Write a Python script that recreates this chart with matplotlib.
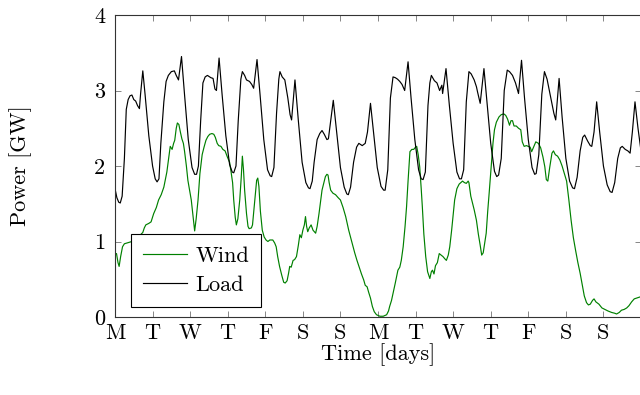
import matplotlib
matplotlib.use("Agg")
import matplotlib.pyplot as plt

plt.rcParams['font.family'] = ['cmr10', 'DejaVu Serif']
plt.rcParams['axes.formatter.use_mathtext'] = True
plt.rcParams['mathtext.fontset'] = 'cm'

# ---- data (time in days from Monday 00:00) ----
day_labels = ["M", "T", "W", "T", "F", "S", "S", "M", "T", "W", "T", "F", "S", "S"]
y_ticks = [0, 1, 2, 3, 4]

load_t = [
    0.00, 0.05, 0.10, 0.14, 0.19, 0.25, 0.30, 0.35, 0.40, 0.45, 0.50, 0.55, 0.60, 0.65, 0.68, 0.74, 0.80, 0.90,
    1.00, 1.07, 1.12, 1.17, 1.22, 1.30, 1.36, 1.42, 1.50, 1.58, 1.63, 1.69, 1.77, 1.85, 1.95,
    2.05, 2.12, 2.17, 2.22, 2.28, 2.34, 2.40, 2.46, 2.55, 2.61, 2.66, 2.70, 2.77, 2.85, 2.95,
    3.05, 3.12, 3.16, 3.22, 3.28, 3.35, 3.39, 3.45, 3.50, 3.58, 3.64, 3.69, 3.78, 3.86, 3.96,
    4.06, 4.13, 4.17, 4.23, 4.30, 4.36, 4.39, 4.45, 4.52, 4.60, 4.66, 4.70, 4.79, 4.88, 4.98,
    5.08, 5.15, 5.19, 5.25, 5.30, 5.38, 5.45, 5.51, 5.57, 5.64, 5.68, 5.74, 5.81, 5.90,
    6.00, 6.10, 6.17, 6.21, 6.27, 6.35, 6.43, 6.49, 6.58, 6.66, 6.72, 6.80, 6.88, 6.98,
    7.08, 7.15, 7.19, 7.26, 7.33, 7.40, 7.46, 7.52, 7.58, 7.64, 7.71, 7.80, 7.88, 7.98,
    8.08, 8.15, 8.20, 8.26, 8.33, 8.38, 8.42, 8.50, 8.57, 8.64, 8.70, 8.72, 8.81, 8.90,
    9.00, 9.10, 9.17, 9.22, 9.28, 9.35, 9.42, 9.48, 9.56, 9.62, 9.65, 9.72, 9.82, 9.90,
    10.00, 10.10, 10.16, 10.21, 10.28, 10.36, 10.44, 10.50, 10.58, 10.66, 10.74, 10.82, 10.90,
    11.00, 11.10, 11.17, 11.21, 11.28, 11.36, 11.43, 11.50, 11.56, 11.62, 11.68, 11.73, 11.82, 11.90,
    12.00, 12.10, 12.18, 12.23, 12.30, 12.38, 12.45, 12.50, 12.58, 12.65, 12.69, 12.75, 12.82, 12.90,
    13.00, 13.10, 13.18, 13.23, 13.30, 13.38, 13.45, 13.50, 13.58, 13.65, 13.71, 13.77, 13.84, 13.92, 14.00,
]
load_v = [
    1.70, 1.58, 1.52, 1.51, 1.60, 2.10, 2.75, 2.88, 2.93, 2.94, 2.88, 2.86, 2.80, 2.76, 2.95, 3.26, 2.95, 2.40,
    2.00, 1.83, 1.79, 1.83, 2.30, 2.85, 3.12, 3.20, 3.25, 3.26, 3.20, 3.14, 3.45, 2.95, 2.35,
    1.98, 1.89, 1.89, 2.00, 2.60, 3.10, 3.18, 3.20, 3.17, 3.16, 3.02, 3.00, 3.43, 2.95, 2.40,
    2.02, 1.92, 1.91, 2.00, 2.60, 3.15, 3.25, 3.20, 3.14, 3.12, 3.08, 3.03, 3.41, 2.95, 2.35,
    1.95, 1.87, 1.86, 1.98, 2.70, 3.15, 3.25, 3.18, 3.14, 2.90, 2.68, 2.61, 3.14, 2.60, 2.05,
    1.78, 1.71, 1.70, 1.80, 2.05, 2.35, 2.43, 2.47, 2.42, 2.35, 2.36, 2.60, 2.87, 2.45,
    1.98, 1.72, 1.63, 1.62, 1.72, 2.05, 2.25, 2.30, 2.27, 2.30, 2.45, 2.83, 2.45, 1.98,
    1.73, 1.68, 1.68, 1.95, 2.90, 3.18, 3.17, 3.15, 3.12, 3.08, 3.00, 3.38, 2.90, 2.35,
    1.95, 1.83, 1.82, 1.92, 2.80, 3.10, 3.20, 3.13, 3.10, 3.00, 3.07, 2.96, 3.29, 2.80,
    2.30, 1.92, 1.83, 1.83, 1.95, 2.85, 3.25, 3.22, 3.14, 3.05, 2.98, 2.83, 3.29, 2.85,
    2.30, 1.93, 1.86, 1.88, 2.10, 3.00, 3.27, 3.25, 3.20, 3.10, 2.96, 3.40, 2.90,
    2.35, 1.98, 1.89, 1.90, 2.15, 2.95, 3.25, 3.15, 3.00, 2.85, 2.70, 2.61, 3.16, 2.65,
    2.10, 1.80, 1.71, 1.70, 1.85, 2.20, 2.38, 2.41, 2.33, 2.27, 2.26, 2.45, 2.85, 2.45,
    2.00, 1.75, 1.66, 1.65, 1.78, 2.10, 2.24, 2.26, 2.22, 2.20, 2.17, 2.45, 2.85, 2.50, 2.20,
]

wind_t = [
    0.00, 0.04, 0.08, 0.11, 0.15, 0.20, 0.25, 0.32, 0.45, 0.60, 0.74, 0.78, 0.82, 0.90, 0.96,
    1.03, 1.10, 1.16, 1.23, 1.30, 1.38, 1.44, 1.47, 1.52, 1.56, 1.59, 1.63, 1.66, 1.70, 1.74, 1.78, 1.82, 1.85, 1.90, 1.94,
    2.03, 2.08, 2.12, 2.16, 2.21, 2.26, 2.32, 2.37, 2.42, 2.47, 2.52, 2.58, 2.63, 2.67, 2.72, 2.76, 2.82, 2.87, 2.93, 2.99,
    3.05, 3.09, 3.13, 3.16, 3.20, 3.23, 3.27, 3.32, 3.36, 3.39, 3.42, 3.45, 3.50, 3.54, 3.57, 3.63, 3.66, 3.72, 3.77, 3.80, 3.83, 3.87, 3.92, 3.97,
    4.02, 4.07, 4.12, 4.20, 4.25, 4.29, 4.33, 4.38, 4.44, 4.49, 4.53, 4.58, 4.62, 4.65, 4.69, 4.74, 4.78, 4.83, 4.88, 4.92, 4.96,
    5.00, 5.04, 5.07, 5.10, 5.13, 5.17, 5.22, 5.27, 5.34, 5.38, 5.43, 5.47, 5.51, 5.56, 5.60, 5.64, 5.67, 5.70, 5.74, 5.80, 5.87, 5.94,
    6.00, 6.07, 6.14, 6.22, 6.31, 6.38, 6.44, 6.50, 6.56, 6.62, 6.66, 6.71, 6.75, 6.80, 6.85, 6.90, 6.96,
    7.05, 7.14, 7.23, 7.28, 7.31, 7.36, 7.40, 7.46, 7.53, 7.58, 7.62, 7.67, 7.72, 7.76, 7.80, 7.85, 7.90, 7.95,
    8.00, 8.03, 8.07, 8.11, 8.15, 8.18, 8.22, 8.27, 8.32, 8.38, 8.42, 8.45, 8.49, 8.53, 8.58, 8.63, 8.68, 8.73, 8.78, 8.82, 8.87, 8.91, 8.96,
    9.00, 9.04, 9.10, 9.16, 9.25, 9.30, 9.35, 9.40, 9.42, 9.47, 9.51, 9.56, 9.62, 9.67, 9.72, 9.76, 9.80, 9.84, 9.88, 9.92, 9.96,
    10.02, 10.06, 10.10, 10.15, 10.22, 10.28, 10.35, 10.40, 10.45, 10.50, 10.54, 10.58, 10.62, 10.68, 10.74, 10.80, 10.84, 10.89, 10.95,
    11.00, 11.05, 11.09, 11.14, 11.20, 11.27, 11.33, 11.39, 11.44, 11.48, 11.52, 11.57, 11.63, 11.67, 11.72, 11.78, 11.84, 11.90, 11.96,
    12.02, 12.08, 12.14, 12.20, 12.26, 12.32, 12.38, 12.44, 12.49, 12.55, 12.60, 12.65, 12.71, 12.75, 12.80, 12.88, 12.96,
    13.04, 13.12, 13.22, 13.30, 13.35, 13.42, 13.48, 13.55, 13.62, 13.68, 13.75, 13.82, 13.88, 14.00,
]
wind_v = [
    0.84, 0.84, 0.72, 0.67, 0.80, 0.93, 0.97, 0.98, 1.00, 1.05, 1.12, 1.18, 1.22, 1.24, 1.26,
    1.37, 1.45, 1.55, 1.62, 1.72, 1.92, 2.15, 2.26, 2.22, 2.30, 2.34, 2.50, 2.57, 2.55, 2.45, 2.36, 2.30, 2.20, 2.00, 1.81,
    1.55, 1.32, 1.14, 1.30, 1.55, 1.90, 2.15, 2.25, 2.34, 2.39, 2.42, 2.43, 2.42, 2.38, 2.30, 2.27, 2.26, 2.22, 2.20, 2.12,
    2.05, 1.92, 1.78, 1.55, 1.32, 1.22, 1.30, 1.55, 1.85, 2.13, 1.95, 1.68, 1.37, 1.20, 1.17, 1.18, 1.22, 1.55, 1.81, 1.84, 1.73, 1.40, 1.15, 1.06,
    1.02, 1.00, 1.02, 1.02, 0.98, 0.93, 0.80, 0.67, 0.55, 0.46, 0.45, 0.48, 0.58, 0.67, 0.66, 0.75, 0.76, 0.80, 0.95, 1.09, 1.05,
    1.15, 1.22, 1.33, 1.20, 1.13, 1.18, 1.22, 1.15, 1.11, 1.20, 1.37, 1.52, 1.68, 1.78, 1.86, 1.89, 1.88, 1.78, 1.68, 1.64, 1.62, 1.58,
    1.55, 1.45, 1.33, 1.15, 0.98, 0.85, 0.75, 0.66, 0.57, 0.49, 0.42, 0.40, 0.33, 0.25, 0.14, 0.07, 0.03,
    0.01, 0.01, 0.03, 0.08, 0.14, 0.22, 0.31, 0.45, 0.62, 0.66, 0.75, 0.93, 1.20, 1.46, 1.80, 2.19, 2.22, 2.22,
    2.25, 2.26, 2.15, 1.99, 1.70, 1.46, 1.10, 0.80, 0.60, 0.51, 0.60, 0.62, 0.57, 0.68, 0.72, 0.84, 0.82, 0.80, 0.77, 0.75, 0.82, 0.93, 1.15,
    1.35, 1.55, 1.70, 1.76, 1.80, 1.78, 1.77, 1.80, 1.78, 1.60, 1.52, 1.42, 1.28, 1.10, 0.95, 0.82, 0.85, 0.98, 1.11, 1.40, 1.65,
    2.05, 2.30, 2.48, 2.58, 2.65, 2.68, 2.69, 2.67, 2.62, 2.54, 2.60, 2.60, 2.53, 2.53, 2.50, 2.48, 2.32, 2.26, 2.27,
    2.26, 2.25, 2.19, 2.25, 2.32, 2.30, 2.24, 2.12, 1.99, 1.82, 1.80, 1.98, 2.17, 2.20, 2.15, 2.13, 2.08, 2.00, 1.90,
    1.80, 1.55, 1.28, 1.05, 0.88, 0.72, 0.58, 0.42, 0.28, 0.19, 0.16, 0.17, 0.22, 0.24, 0.20, 0.17, 0.12,
    0.10, 0.08, 0.06, 0.05, 0.04, 0.06, 0.09, 0.10, 0.12, 0.15, 0.20, 0.24, 0.25, 0.27,
]

# ---- figure ----
fig = plt.figure(figsize=(6.4, 3.95), dpi=100)
ax = fig.add_axes([115 / 640, 78 / 395, 526 / 640, 302 / 395])

ax.plot(wind_t, wind_v, color="#008000", lw=0.85, label="Wind")
ax.plot(load_t, load_v, color="black", lw=0.85, label="Load")

ax.set_xlim(0, 14)
ax.set_ylim(0, 4)
ax.set_xticks(range(len(day_labels)))
ax.set_xticklabels(day_labels)
ax.set_yticks(y_ticks)
ax.set_yticklabels([str(v) for v in y_ticks])

fs = 16
ax.tick_params(axis="both", which="major", direction="in", length=4, width=0.6,
               color="0.45", labelsize=fs, top=True, right=True)
ax.tick_params(axis="x", pad=5)
ax.tick_params(axis="y", pad=7)
for s in ax.spines.values():
    s.set_linewidth(0.8)
    s.set_color("0.2")

ax.set_xlabel("Time [days]", fontsize=fs, va="center")
ax.xaxis.set_label_coords(0.5, (317 - 355) / 302)
ax.set_ylabel("Power [GW]", fontsize=fs, va="center")
ax.yaxis.set_label_coords((21 - 115) / 526, 0.5)

leg = ax.legend(loc="lower left", bbox_to_anchor=(0.03, 0.032), borderaxespad=0,
                fontsize=fs, frameon=True, fancybox=False, framealpha=1,
                edgecolor="black", handlelength=2.0, handletextpad=0.35,
                labelspacing=0.45, borderpad=0.55)
leg.get_frame().set_linewidth(0.8)

fig.savefig("out.png", dpi=100)
